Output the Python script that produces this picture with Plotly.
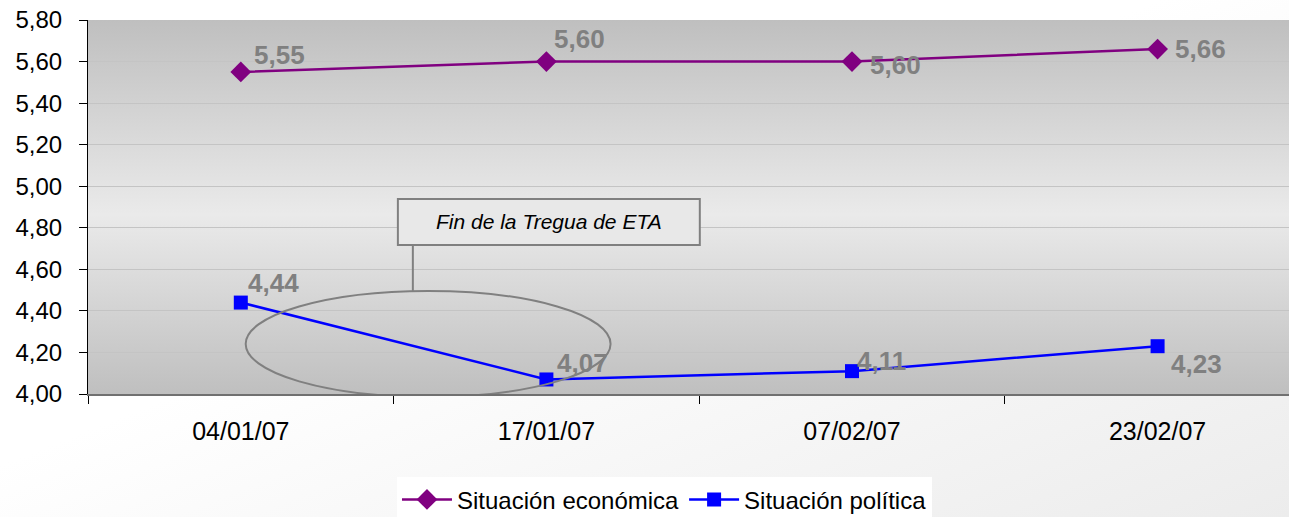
import base64
import plotly.graph_objects as go

# ---- data ----
fechas = ["04/01/07", "17/01/07", "07/02/07", "23/02/07"]
economica = [5.55, 5.60, 5.60, 5.66]
politica = [4.44, 4.07, 4.11, 4.23]
y_ticks = [4.0, 4.2, 4.4, 4.6, 4.8, 5.0, 5.2, 5.4, 5.6, 5.8]
nota = "Fin de la Tregua de ETA"

# label offsets (pixels) - styling
eco_dx = [39, 33, 44, 43]
eco_dy = [17, 23, -3, 0]
pol_dx = [33, 36, 30, 39]
pol_dy = [20, 16, 10, -18]

W, H = 1289, 517
ML, MR, MT, MB = 88, 0, 20, 123
PW, PH = W - ML - MR, H - MT - MB


def svg_uri(svg):
    return "data:image/svg+xml;base64," + base64.b64encode(svg.encode()).decode()


plot_bg = svg_uri(
    '<svg xmlns="http://www.w3.org/2000/svg" width="100" height="100" viewBox="0 0 100 100" preserveAspectRatio="none">'
    '<defs><linearGradient id="g" x1="0" y1="0" x2="0" y2="1">'
    '<stop offset="0" stop-color="#bfbfbf"/><stop offset="0.52" stop-color="#eaeaea"/>'
    '<stop offset="1" stop-color="#bfbfbf"/></linearGradient></defs>'
    '<rect x="0" y="0" width="100" height="100" fill="url(#g)"/></svg>'
)
paper_bg = svg_uri(
    '<svg xmlns="http://www.w3.org/2000/svg" width="100" height="100" viewBox="0 0 100 100" preserveAspectRatio="none">'
    '<defs><linearGradient id="g" x1="0" y1="0" x2="1" y2="1">'
    '<stop offset="0" stop-color="#ffffff"/><stop offset="0.45" stop-color="#ffffff"/>'
    '<stop offset="1" stop-color="#ececec"/></linearGradient></defs>'
    '<rect x="0" y="0" width="100" height="100" fill="url(#g)"/></svg>'
)

fig = go.Figure()
fig.add_trace(go.Scatter(
    x=fechas, y=economica, mode="lines+markers", name="Situación económica",
    line=dict(color="#800080", width=2.5),
    marker=dict(symbol="diamond", size=16, color="#800080"),
))
fig.add_trace(go.Scatter(
    x=fechas, y=politica, mode="lines+markers", name="Situación política",
    line=dict(color="#0000ff", width=2.5),
    marker=dict(symbol="square", size=14, color="#0000ff"),
))

annotations = []
lab_font = dict(family="Liberation Sans, Arial", size=26, color="#808080")
for serie, dxs, dys in ((economica, eco_dx, eco_dy), (politica, pol_dx, pol_dy)):
    for f, v, dx, dy in zip(fechas, serie, dxs, dys):
        annotations.append(dict(
            x=f, y=v, xref="x", yref="y", text="<b>" + f"{v:.2f}".replace(".", ",") + "</b>",
            showarrow=False, xshift=dx, yshift=dy, font=lab_font,
        ))

annotations.append(dict(
    x=1.008, y=4.828, xref="x", yref="y", text="<i>" + nota + "</i>", showarrow=False,
    font=dict(family="Liberation Sans, Arial", size=21, color="#000000"),
))

shapes = [
    dict(type="circle", xref="x", yref="y", x0=0.016, x1=1.210, y0=3.986, y1=4.496,
         line=dict(color="#808080", width=2), fillcolor="rgba(0,0,0,0)", layer="above"),
    dict(type="line", xref="x", yref="y", x0=0.563, x1=0.563, y0=4.717, y1=4.496,
         line=dict(color="#808080", width=2), layer="above"),
    dict(type="rect", xref="x", yref="y", x0=0.514, x1=1.502, y0=4.717, y1=4.939,
         line=dict(color="#808080", width=2), fillcolor="#e8e8e8", layer="above"),
]

images = [
    dict(source=paper_bg, xref="paper", yref="paper", x=-ML / PW, y=1 + MT / PH,
         sizex=W / PW, sizey=H / PH, xanchor="left", yanchor="top",
         sizing="stretch", layer="below"),
    dict(source=plot_bg, xref="x domain", yref="y domain", x=0, y=1, sizex=1, sizey=1,
         xanchor="left", yanchor="top", sizing="stretch", layer="below"),
]

fig.update_layout(
    width=W, height=H,
    margin=dict(l=ML, r=MR, t=MT, b=MB, pad=0, autoexpand=False),
    paper_bgcolor="#ffffff", plot_bgcolor="rgba(0,0,0,0)",
    separators=",.",
    font=dict(family="Liberation Sans, Arial", color="#000000"),
    showlegend=True,
    legend=dict(orientation="h", x=0.48, xanchor="center", y=-0.283, yanchor="middle",
                bgcolor="#ffffff", font=dict(size=24, color="#000000"),
                itemwidth=50, tracegroupgap=0),
    annotations=annotations, shapes=shapes, images=images,
    xaxis=dict(type="category", categoryorder="array", categoryarray=fechas,
               range=[-0.5, 3.43], tickson="boundaries", ticks="outside", ticklen=8,
               tickcolor="#000000", showline=True, linecolor="#707070", linewidth=2,
               showgrid=False, tickfont=dict(size=25, color="#000000"),
               ticklabelstandoff=14, automargin=False),
    yaxis=dict(range=[4.0, 5.8], tickvals=y_ticks, tickformat=".2f", ticks="outside",
               ticklen=8, tickcolor="#000000", showline=True, linecolor="#000000",
               linewidth=1, showgrid=True, gridcolor="#c4c4c4", gridwidth=1,
               zeroline=False, tickfont=dict(size=24, color="#000000"),
               ticklabelstandoff=12, automargin=False),
)

fig.write_html(
    "out.html",
    config={"displayModeBar": False},
    post_script="document.body.style.margin='0';document.body.style.overflow='hidden';",
)
